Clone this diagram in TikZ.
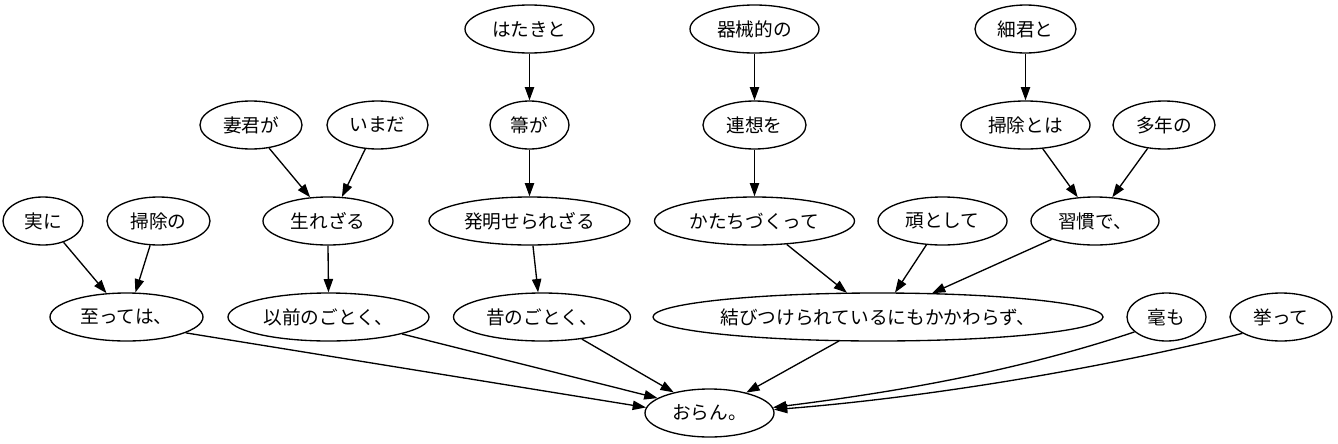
\documentclass[tikz,border=0pt]{standalone}
\usepackage{fontspec}
\setmainfont{Noto Sans CJK JP}
\usetikzlibrary{shapes.geometric,arrows.meta}
\begin{document}
\begin{tikzpicture}[x=0.75pt,y=-0.75pt,
  nd/.style={ellipse, draw=black, line width=1pt, inner sep=0pt, minimum height=36pt, font=\fontsize{14pt}{16pt}\selectfont},
  mw/.style={minimum width=#1*0.75pt},
  edge/.style={draw=black, line width=1pt, -{Triangle[length=10pt,width=7pt]}}]
\useasboundingbox (0,0) rectangle (1338,443);
% row 1
\node[nd, mw=129] (hataki) at (529.5,29) {はたきと};
\node[nd, mw=129] (kikai) at (754.5,29) {器械的の};
\node[nd, mw=101] (saikun) at (1025.5,29) {細君と};
% row 2
\node[nd, mw=102] (saikunga) at (251,125) {妻君が};
\node[nd, mw=101] (imada) at (377.5,125) {いまだ};
\node[nd, mw=79] (houki) at (529.5,125) {箒が};
\node[nd, mw=103] (rensou) at (754.5,125) {連想を};
\node[nd, mw=129] (soujitoha) at (1025.5,125) {掃除とは};
\node[nd, mw=102] (tanen) at (1164,125) {多年の};
% row 3
\node[nd, mw=80] (jitsuni) at (43,221) {実に};
\node[nd, mw=103] (soujino) at (158.5,221) {掃除の};
\node[nd, mw=130] (umare) at (328,221) {生れざる};
\node[nd, mw=201] (hatsumei) at (529.5,221) {発明せられざる};
\node[nd, mw=200] (katachi) at (754.5,221) {かたちづくって};
\node[nd, mw=129] (gan) at (942.5,221) {頑として};
\node[nd, mw=128] (shuukan) at (1095,221) {習慣で、};
% row 4
\node[nd, mw=153] (itatte) at (126.5,317) {至っては、};
\node[nd, mw=201] (izen) at (328.5,317) {以前のごとく、};
\node[nd, mw=177] (mukashi) at (542,317) {昔のごとく、};
\node[nd, mw=450] (musubi) at (878,317) {結びつけられているにもかかわらず、};
\node[nd, mw=79] (gomo) at (1166.5,317) {毫も};
\node[nd, mw=102] (kyotte) at (1281,317) {挙って};
% row 5
\node[nd, mw=129] (oran) at (709.5,413) {おらん。};
% edges
\draw[edge] (jitsuni.-46) -- (itatte.130);
\draw[edge] (soujino.-109) -- (itatte.70);
\draw[edge] (saikunga.-52) -- (umare.127);
\draw[edge] (imada.-117) -- (umare.60);
\draw[edge] (umare.south) -- (izen.north);
\draw[edge] (hataki.south) -- (houki.north);
\draw[edge] (houki.south) -- (hatsumei.north);
\draw[edge] (hatsumei.-82) -- (mukashi.99);
\draw[edge] (kikai.south) -- (rensou.north);
\draw[edge] (rensou.south) -- (katachi.north);
\draw[edge] (saikun.south) -- (soujitoha.north);
\draw[edge] (soujitoha.-54) -- (shuukan.126);
\draw[edge] (tanen.-125) -- (shuukan.54);
\draw[edge] (katachi.-36) -- ([shift={(-31,-24.2)}]musubi.center);
\draw[edge] (gan.-124) -- ([shift={(17,-24.4)}]musubi.center);
\draw[edge] (shuukan.-157) -- ([shift={(54,-23.8)}]musubi.center);
\draw[edge] (itatte.-15) -- (oran.175);
\draw[edge] (izen.-13) -- (oran.164);
\draw[edge] (mukashi.-29) -- (oran.150);
\draw[edge] ([shift={(-39,24)}]musubi.center) -- (oran.29);
\draw[edge] (gomo.-155) .. controls +(-120,40) and +(120,-15) .. (oran.5);
\draw[edge] (kyotte.-157) .. controls +(-150,37) and +(150,-12) .. (oran.3);
\end{tikzpicture}
\end{document}
